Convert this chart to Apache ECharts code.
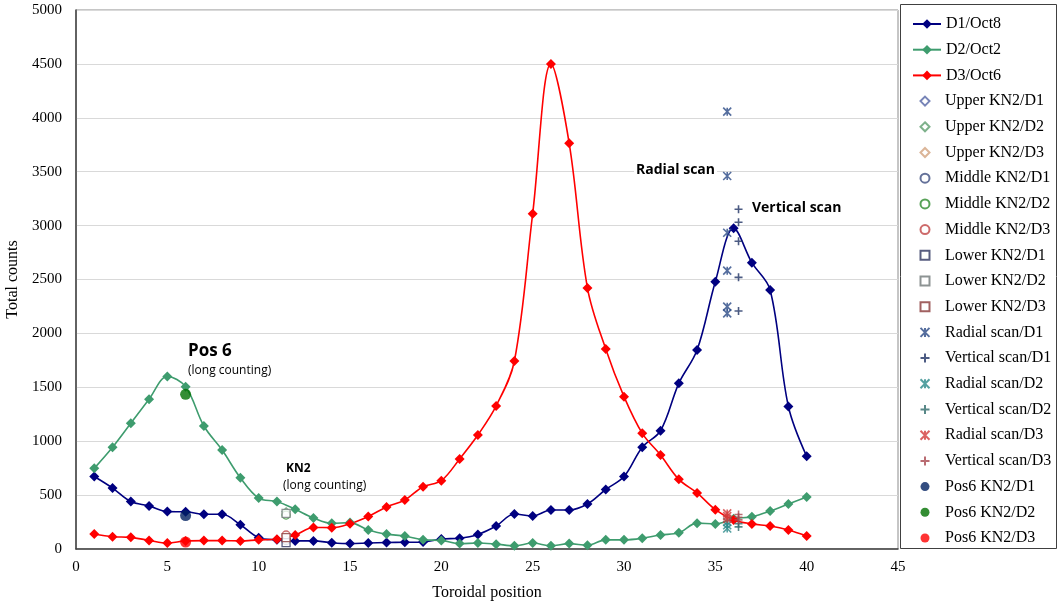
<!DOCTYPE html>
<html>
<head>
<meta charset="utf-8">
<script src="https://cdn.jsdelivr.net/npm/echarts@6/dist/echarts.min.js"></script>
<style>
  html, body { margin: 0; padding: 0; background: #fff; }
  #chart { width: 1060px; height: 604px; }
</style>
</head>
<body>
<div id="chart"></div>
<script>
// toroidal positions 1..40
const positions = [1, 2, 3, 4, 5, 6, 7, 8, 9, 10, 11, 12, 13, 14, 15, 16, 17, 18, 19, 20,
  21, 22, 23, 24, 25, 26, 27, 28, 29, 30, 31, 32, 33, 34, 35, 36, 37, 38, 39, 40];

const d1Oct8 = [672, 565, 440, 400, 347, 345, 322, 322, 225, 105, 85, 75, 75, 58, 50, 55, 60, 62, 65, 93,
  100, 135, 213, 325, 306, 362, 362, 417, 552, 672, 945, 1097, 1537, 1846, 2480, 2975, 2656, 2403, 1322, 860];
const d2Oct2 = [748, 943, 1166, 1390, 1600, 1505, 1141, 918, 660, 472, 440, 368, 288, 238, 245, 176, 138, 120, 85, 80,
  50, 55, 45, 30, 55, 30, 50, 35, 85, 85, 100, 130, 150, 240, 233, 280, 300, 352, 417, 482];
const d3Oct6 = [139, 114, 108, 80, 55, 75, 78, 78, 75, 85, 90, 130, 200, 198, 235, 302, 390, 455, 578, 634,
  835, 1057, 1327, 1744, 3110, 4500, 3763, 2421, 1855, 1413, 1073, 872, 646, 520, 365, 270, 233, 213, 176, 120];

// KN2 long counting (position ~11.5)
const kn2Pos = 11.5;
const upperKN2 = { d1: 95, d2: 345, d3: 120 };
const middleKN2 = { d1: 80, d2: 315, d3: 130 };
const lowerKN2 = { d1: 60, d2: 330, d3: 105 };

// scans near position 36
const radialPos = 35.65;
const verticalPos = 36.27;
const radialD1 = [4057, 3460, 2934, 2582, 2248, 2186];
const verticalD1 = [3151, 3031, 2855, 2520, 2208];
const radialD2 = [250, 220, 190];
const verticalD2 = [235, 205];
const radialD3 = [330, 305, 280];
const verticalD3 = [320, 295, 270];

// Pos6 long counting
const pos6Pos = 6;
const pos6 = { d1: 310, d2: 1435, d3: 65 };

const xTicks = { min: 0, max: 45, interval: 5 };
const yTicks = { min: 0, max: 5000, interval: 500 };

const pairs = (xs, ys) => ys.map((y, i) => [xs[i], y]);
const at = (x, ys) => ys.map((y) => [x, y]);

const plus = 'path://M5,0L5,10M0,5L10,5';
const star = 'path://M0,0L10,10M10,0L0,10M5,0L5,10';
const diamond = 'path://M5,0L10,5L5,10L0,5Z';
const square = 'path://M0,0L10,0L10,10L0,10Z';

const lineSeries = (name, data, color) => ({
  name,
  type: 'line',
  data: pairs(positions, data),
  smooth: 0.35,
  symbol: 'diamond',
  symbolSize: 10,
  lineStyle: { color, width: 1.6 },
  itemStyle: { color },
  z: 2,
});

const hollow = (name, symbol, x, y, color) => ({
  name,
  type: 'scatter',
  data: [[x, y]],
  symbol,
  symbolSize: 8,
  itemStyle: { color: '#fff', borderColor: color, borderWidth: 1.3 },
  z: 3,
});

const strokeMarks = (name, symbol, data, color) => ({
  name,
  type: 'scatter',
  data,
  symbol,
  symbolSize: 8,
  itemStyle: { color: 'none', borderColor: color, borderWidth: 1.6 },
  z: 4,
});

const filled = (name, x, y, color) => ({
  name,
  type: 'scatter',
  data: [[x, y]],
  symbol: 'circle',
  symbolSize: 11,
  itemStyle: { color },
  z: 5,
});

const series = [
  lineSeries('D1/Oct8', d1Oct8, '#000080'),
  lineSeries('D2/Oct2', d2Oct2, '#3E9C6E'),
  lineSeries('D3/Oct6', d3Oct6, '#FF0000'),
  hollow('Upper KN2/D1', diamond, kn2Pos, upperKN2.d1, '#5565A5'),
  hollow('Upper KN2/D2', diamond, kn2Pos, upperKN2.d2, '#5E9E6E'),
  hollow('Upper KN2/D3', diamond, kn2Pos, upperKN2.d3, '#D2A27E'),
  hollow('Middle KN2/D1', 'circle', kn2Pos, middleKN2.d1, '#3D4D80'),
  hollow('Middle KN2/D2', 'circle', kn2Pos, middleKN2.d2, '#2E8B2E'),
  hollow('Middle KN2/D3', 'circle', kn2Pos, middleKN2.d3, '#C04545'),
  hollow('Lower KN2/D1', square, kn2Pos, lowerKN2.d1, '#2E3560'),
  hollow('Lower KN2/D2', square, kn2Pos, lowerKN2.d2, '#707878'),
  hollow('Lower KN2/D3', square, kn2Pos, lowerKN2.d3, '#8A3A3A'),
  strokeMarks('Radial scan/D1', star, at(radialPos, radialD1), '#2B4A86'),
  strokeMarks('Vertical scan/D1', plus, at(verticalPos, verticalD1), '#1F3264'),
  strokeMarks('Radial scan/D2', star, at(radialPos, radialD2), '#2A8A8A'),
  strokeMarks('Vertical scan/D2', plus, at(verticalPos, verticalD2), '#2F6A6A'),
  strokeMarks('Radial scan/D3', star, at(radialPos, radialD3), '#D23C3C'),
  strokeMarks('Vertical scan/D3', plus, at(verticalPos, verticalD3), '#A8474F'),
  filled('Pos6 KN2/D1', pos6Pos, pos6.d1, '#002060'),
  filled('Pos6 KN2/D2', pos6Pos, pos6.d2, '#007000'),
  filled('Pos6 KN2/D3', pos6Pos, pos6.d3, '#FF0000'),
];

const chart = echarts.init(document.getElementById('chart'));

const serif = 'Liberation Serif';
const legendText = { fontFamily: serif, fontSize: 16, lineHeight: 16, color: '#000' };
const rowGap = 9.7;
const rowStep = 16 + rowGap;
const legendTop = 16;
const lineNames = series.filter((s) => s.type === 'line').map((s) => s.name);
const markNames = series.filter((s) => s.type !== 'line').map((s) => s.name);

chart.setOption({
  animation: false,
  backgroundColor: '#fff',
  grid: {
    left: 76, right: 162, top: 10, bottom: 55,
    outerBoundsMode: 'none',
    containLabel: false,
    show: true, borderColor: '#8c8c8c', borderWidth: 1,
  },
  legend: [
    {
      orient: 'vertical', left: 912, top: legendTop, padding: 0, height: 600,
      itemWidth: 28, itemHeight: 12, itemGap: rowGap,
      textStyle: legendText,
      data: lineNames,
    },
    {
      orient: 'vertical', left: 918, top: legendTop + 3 * rowStep, padding: 0, height: 600,
      itemWidth: 30, itemHeight: 9, itemGap: rowGap,
      textStyle: legendText,
      data: markNames,
    },
  ],
  xAxis: {
    type: 'value',
    min: xTicks.min, max: xTicks.max, interval: xTicks.interval,
    name: 'Toroidal position',
    nameLocation: 'middle',
    nameGap: 36,
    nameTextStyle: { fontFamily: serif, fontSize: 16, color: '#000' },
    axisLine: { lineStyle: { color: '#404040', width: 1.5 } },
    axisTick: { show: false },
    axisLabel: { fontFamily: serif, fontSize: 15, color: '#000', margin: 11 },
    splitLine: { show: false },
  },
  yAxis: {
    type: 'value',
    min: yTicks.min, max: yTicks.max, interval: yTicks.interval,
    name: 'Total counts',
    nameLocation: 'middle',
    nameGap: 47,
    nameTextStyle: { fontFamily: serif, fontSize: 16, color: '#000' },
    axisLine: { show: true, lineStyle: { color: '#404040', width: 1.5 } },
    axisTick: { show: false },
    axisLabel: { fontFamily: serif, fontSize: 15, color: '#000', margin: 14, formatter: (v) => String(v) },
    splitLine: { lineStyle: { color: '#d9d9d9', width: 1.2 } },
  },
  graphic: [
    { type: 'rect', shape: { x: 900.5, y: 4.5, width: 156, height: 544 },
      style: { fill: 'none', stroke: '#404040', lineWidth: 1 }, silent: true },
    { type: 'text', left: 188, top: 343,
      style: { text: 'Pos 6', font: 'bold 17px "Open Sans"', fill: '#000' } },
    { type: 'text', left: 188, top: 365,
      style: { text: '(long counting)', font: '12px "Open Sans"', fill: '#000' } },
    { type: 'text', left: 286, top: 463,
      style: { text: 'KN2', font: 'bold 12px "Open Sans"', fill: '#000' } },
    { type: 'text', left: 283, top: 480,
      style: { text: '(long counting)', font: '12px "Open Sans"', fill: '#000' } },
    { type: 'text', left: 634, top: 163, z: 10,
      style: { text: 'Radial scan', font: 'bold 14px "Open Sans"', fill: '#000',
        backgroundColor: '#fff', padding: [0, 2] } },
    { type: 'text', left: 752, top: 201, z: 10,
      style: { text: 'Vertical scan', font: 'bold 14px "Open Sans"', fill: '#000' } },
  ],
  series,
});
</script>
</body>
</html>
